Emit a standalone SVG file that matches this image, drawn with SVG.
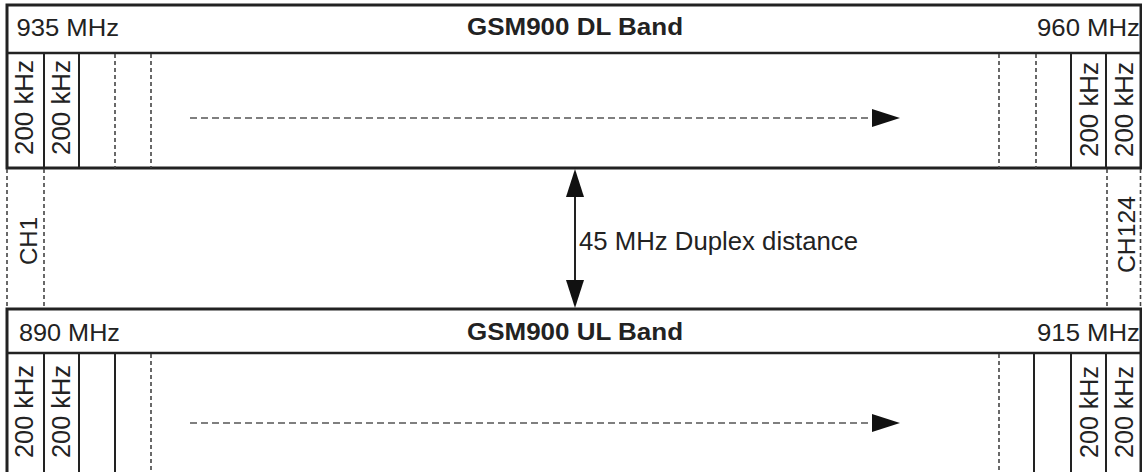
<svg xmlns="http://www.w3.org/2000/svg" width="1142" height="472" viewBox="0 0 1142 472">
<style>
.frame{fill:#fff;stroke:#222;stroke-width:3}
.div{stroke:#222;stroke-width:2.5}
.col{stroke:#222;stroke-width:2}
.dcol{stroke:#444;stroke-width:1.6;stroke-dasharray:4 3}
.flow{stroke:#555;stroke-width:1.6;stroke-dasharray:7 4;fill:none}
.t{font-family:"Liberation Sans",Arial,sans-serif;font-size:24px;fill:#222}
.b{font-weight:bold}
.v{font-family:"Liberation Sans",Arial,sans-serif;font-size:25px;fill:#222}
</style>
<g id="dl-band">
<rect class="frame" x="7" y="5" width="1134" height="163"/>
<line class="div" x1="7" y1="53" x2="1141" y2="53"/>
<text class="t" x="16.5" y="36" textLength="102.5" lengthAdjust="spacingAndGlyphs">935 MHz</text>
<text class="t b" x="467" y="35" textLength="216" lengthAdjust="spacingAndGlyphs">GSM900 DL Band</text>
<text class="t" x="1037" y="36" textLength="103" lengthAdjust="spacingAndGlyphs">960 MHz</text>
<line class="col" x1="44" y1="53" x2="44" y2="168"/>
<line class="col" x1="79" y1="53" x2="79" y2="168"/>
<line class="dcol" x1="115" y1="54" x2="115" y2="168"/>
<line class="dcol" x1="151" y1="54" x2="151" y2="168"/>
<line class="dcol" x1="999" y1="54" x2="999" y2="168"/>
<line class="dcol" x1="1036" y1="54" x2="1036" y2="168"/>
<line class="col" x1="1071" y1="53" x2="1071" y2="168"/>
<line class="col" x1="1106" y1="53" x2="1106" y2="168"/>
<text class="v" transform="translate(33,155) rotate(-90)" textLength="95" lengthAdjust="spacingAndGlyphs">200 kHz</text>
<text class="v" transform="translate(70,155) rotate(-90)" textLength="95" lengthAdjust="spacingAndGlyphs">200 kHz</text>
<text class="v" transform="translate(1098,157) rotate(-90)" textLength="95" lengthAdjust="spacingAndGlyphs">200 kHz</text>
<text class="v" transform="translate(1133,157) rotate(-90)" textLength="95" lengthAdjust="spacingAndGlyphs">200 kHz</text>
</g>
<g id="ch1">
<line class="dcol" x1="7" y1="169" x2="7" y2="308"/>
<line class="dcol" x1="44" y1="169" x2="44" y2="308"/>
<text class="t" transform="translate(37,265) rotate(-90)">CH1</text>
</g>
<g id="ch124">
<line class="dcol" x1="1107" y1="169" x2="1107" y2="308"/>
<line class="dcol" x1="1140.5" y1="169" x2="1140.5" y2="308"/>
<text class="t" transform="translate(1135,273) rotate(-90)" textLength="77" lengthAdjust="spacingAndGlyphs">CH124</text>
</g>
<g id="ul-band">
<rect class="frame" x="7" y="309" width="1134" height="175"/>
<line class="div" x1="7" y1="353" x2="1141" y2="353"/>
<text class="t" x="19" y="341" textLength="101" lengthAdjust="spacingAndGlyphs">890 MHz</text>
<text class="t b" x="467" y="340" textLength="216" lengthAdjust="spacingAndGlyphs">GSM900 UL Band</text>
<text class="t" x="1037" y="341" textLength="103" lengthAdjust="spacingAndGlyphs">915 MHz</text>
<line class="col" x1="44" y1="353" x2="44" y2="472"/>
<line class="col" x1="79" y1="353" x2="79" y2="472"/>
<line class="col" x1="115" y1="353" x2="115" y2="472"/>
<line class="dcol" x1="151" y1="354" x2="151" y2="472"/>
<line class="dcol" x1="999" y1="354" x2="999" y2="472"/>
<line class="col" x1="1034" y1="353" x2="1034" y2="472"/>
<line class="col" x1="1071" y1="353" x2="1071" y2="472"/>
<line class="col" x1="1106" y1="353" x2="1106" y2="472"/>
<text class="v" transform="translate(33,458) rotate(-90)" textLength="93" lengthAdjust="spacingAndGlyphs">200 kHz</text>
<text class="v" transform="translate(70,458) rotate(-90)" textLength="93" lengthAdjust="spacingAndGlyphs">200 kHz</text>
<text class="v" transform="translate(1098,458) rotate(-90)" textLength="92" lengthAdjust="spacingAndGlyphs">200 kHz</text>
<text class="v" transform="translate(1133,458) rotate(-90)" textLength="92" lengthAdjust="spacingAndGlyphs">200 kHz</text>
</g>
<g id="connectors">
<line class="flow" x1="190" y1="118" x2="872" y2="118"/>
<polygon points="872,109 900,118 872,127" fill="#111"/>
<line class="flow" x1="190" y1="423" x2="872" y2="423"/>
<polygon points="872,414 900,423 872,432" fill="#111"/>
<line x1="575" y1="190" x2="575" y2="288" stroke="#222" stroke-width="2"/>
<polygon points="575,169 566,197 584,197" fill="#111"/>
<polygon points="575,308 566,280 584,280" fill="#111"/>
<text class="t" x="579" y="250" style="font-size:25px" textLength="279" lengthAdjust="spacingAndGlyphs">45 MHz Duplex distance</text>
</g>
</svg>
